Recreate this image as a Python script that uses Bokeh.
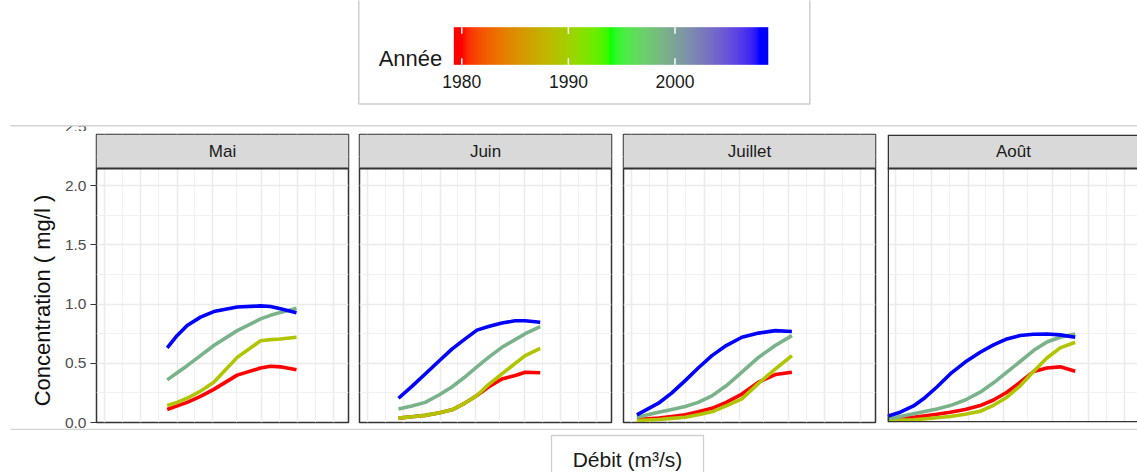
import numpy as np
from bokeh.plotting import figure
from bokeh.models import (Range1d, FixedTicker, Grid, BoxAnnotation, Label, Span,
                          LinearColorMapper, ColumnDataSource, NumeralTickFormatter)
from bokeh.layouts import column, row
from bokeh.embed import file_html
from bokeh.resources import INLINE
from bokeh.core.properties import value
from bokeh.transform import transform

FONT = "Liberation Sans"

# ---------------------------------------------------------------- data
years = [1980, 1989, 1999, 2008]
year_lo, year_hi = 1980, 2008
colour_stops = ["#FF0000", "#00FF00", "#0000FF"]
legend_ticks = [1980, 1990, 2000]

months = ["Mai", "Juin", "Juillet", "Août"]

# discharge (relative units, no labels on the axis)
debit_mai = [7.07, 8.07, 9.07, 10.4, 11.73, 14.07, 16.4, 17.4, 18.4, 20.0]
conc_mai_1980 = [0.11, 0.14, 0.17, 0.22, 0.28, 0.40, 0.46, 0.475, 0.47, 0.445]
conc_mai_1989 = [0.143, 0.17, 0.205, 0.265, 0.34, 0.55, 0.69, 0.70, 0.705, 0.72]
conc_mai_1999 = [0.36, 0.42, 0.48, 0.565, 0.65, 0.776, 0.875, 0.905, 0.93, 0.965]
conc_mai_2008 = [0.63, 0.735, 0.82, 0.89, 0.937, 0.975, 0.985, 0.98, 0.96, 0.926]

debit_juin = [3.9, 5.24, 6.57, 7.9, 9.24, 10.47, 11.74, 12.9, 14.24, 15.57, 16.57, 18.07]
conc_juin_1980 = [0.037, 0.048, 0.06, 0.08, 0.107, 0.16, 0.228, 0.30, 0.368, 0.397, 0.425, 0.42]
conc_juin_1989 = [0.037, 0.048, 0.06, 0.08, 0.107, 0.16, 0.228, 0.32, 0.41, 0.50, 0.565, 0.627]
conc_juin_1999 = [0.115, 0.14, 0.17, 0.23, 0.30, 0.38, 0.47, 0.55, 0.635, 0.70, 0.75, 0.81]
conc_juin_2008 = [0.205, 0.305, 0.41, 0.515, 0.62, 0.70, 0.78, 0.81, 0.84, 0.86, 0.86, 0.846]

debit_juillet = [1.34, 3.5, 4.84, 6.17, 7.47, 8.84, 10.27, 11.84, 13.5, 15.17, 16.84]
conc_juillet_1980 = [0.025, 0.037, 0.05, 0.065, 0.09, 0.12, 0.17, 0.24, 0.34, 0.405, 0.425]
conc_juillet_1989 = [0.017, 0.025, 0.035, 0.045, 0.065, 0.09, 0.14, 0.20, 0.33, 0.45, 0.565]
conc_juillet_1999 = [0.045, 0.087, 0.11, 0.135, 0.17, 0.225, 0.31, 0.425, 0.55, 0.65, 0.734]
conc_juillet_2008 = [0.065, 0.163, 0.25, 0.354, 0.46, 0.565, 0.65, 0.72, 0.755, 0.776, 0.768]

debit_aout = [0.0, 1.27, 2.6, 3.6, 4.94, 6.27, 7.77, 9.27, 10.6, 11.94, 13.27, 14.6, 15.94, 17.27, 18.77]
conc_aout_1980 = [0.022, 0.033, 0.045, 0.055, 0.07, 0.087, 0.11, 0.143, 0.19, 0.256, 0.34, 0.43, 0.46, 0.47, 0.433]
conc_aout_1989 = [0.017, 0.02, 0.022, 0.03, 0.04, 0.05, 0.07, 0.095, 0.145, 0.214, 0.31, 0.43, 0.545, 0.63, 0.678]
conc_aout_1999 = [0.03, 0.05, 0.073, 0.09, 0.115, 0.143, 0.19, 0.256, 0.335, 0.425, 0.515, 0.608, 0.68, 0.72, 0.748]
conc_aout_2008 = [0.053, 0.087, 0.14, 0.20, 0.30, 0.41, 0.51, 0.593, 0.655, 0.706, 0.735, 0.745, 0.748, 0.74, 0.72]

y_ticks = [0.0, 0.5, 1.0, 1.5, 2.0]
y_minor = [0.25, 0.75, 1.25, 1.75, 2.25]
y_next = 2.5                      # following break, mostly outside the image
x_breaks = [0.8, 4.4, 8.07, 11.57, 16.47, 20.07, 23.73]
x_minor = [2.6, 6.23, 9.82, 14.02, 18.27, 21.9]

panels = [
    (debit_mai, [conc_mai_1980, conc_mai_1989, conc_mai_1999, conc_mai_2008]),
    (debit_juin, [conc_juin_1980, conc_juin_1989, conc_juin_1999, conc_juin_2008]),
    (debit_juillet, [conc_juillet_1980, conc_juillet_1989, conc_juillet_1999, conc_juillet_2008]),
    (debit_aout, [conc_aout_1980, conc_aout_1989, conc_aout_1999, conc_aout_2008]),
]

# ---------------------------------------------------------------- colour scale (Lab interpolation)
_M = np.array([[0.4124, 0.3576, 0.1805],
               [0.2126, 0.7152, 0.0722],
               [0.0193, 0.1192, 0.9505]])
_WHITE = np.array([0.95047, 1.0, 1.08883])
_D = 6 / 29


def to_lab(hexc):
    rgb = np.array([int(hexc[i:i + 2], 16) for i in (1, 3, 5)]) / 255.0
    lin = np.where(rgb <= 0.04045, rgb / 12.92, ((rgb + 0.055) / 1.055) ** 2.4)
    xyz = _M @ lin / _WHITE
    f = np.where(xyz > _D ** 3, np.cbrt(xyz), xyz / (3 * _D ** 2) + 4 / 29)
    return np.array([116 * f[1] - 16, 500 * (f[0] - f[1]), 200 * (f[1] - f[2])])


def from_lab(lab):
    L, a, b = lab
    fy = (L + 16) / 116
    f = np.array([fy + a / 500, fy, fy - b / 200])
    xyz = np.where(f > _D, f ** 3, 3 * _D ** 2 * (f - 4 / 29)) * _WHITE
    lin = np.clip(np.linalg.inv(_M) @ xyz, 0, 1)
    rgb = np.where(lin <= 0.0031308, 12.92 * lin, 1.055 * lin ** (1 / 2.4) - 0.055)
    r, g, bb = np.round(np.clip(rgb, 0, 1) * 255).astype(int)
    return "#%02x%02x%02x" % (r, g, bb)


stops_lab = [to_lab(c) for c in colour_stops]
palette = []
for t in np.linspace(0, 1, 256):
    seg = min(int(t * (len(stops_lab) - 1)), len(stops_lab) - 2)
    u = t * (len(stops_lab) - 1) - seg
    palette.append(from_lab(stops_lab[seg] * (1 - u) + stops_lab[seg + 1] * u))

mapper = LinearColorMapper(palette=palette, low=year_lo, high=year_hi)

# ---------------------------------------------------------------- geometry
BORDER = "#333333"
FRAME_W = 252
FRAME_H = 288
PX = 118.4                        # pixels per mg/l
Y_TOP = FRAME_H / PX              # top of the frame (= top of strip)
STRIP_LO = 2.145                  # panel top / strip bottom
TOP_H = 131
ROW_H = 297
BOTTOM_H = 44
PAD_TOP, PAD_BOTTOM = 3, 6
FRAME_BOTTOM_PX = TOP_H + PAD_TOP + FRAME_H   # page y of concentration 0


def make_panel(i, debit, concs, width, left, right):
    first = i == 0
    last = i == len(months) - 1
    fw = width - left - right
    x_end = fw / 10
    p = figure(width=width, height=ROW_H, x_range=Range1d(0, x_end), y_range=Range1d(0, Y_TOP),
               min_border_left=left, min_border_right=right,
               min_border_top=PAD_TOP, min_border_bottom=PAD_BOTTOM,
               x_axis_location=None, y_axis_location="left" if first else None,
               toolbar_location=None, output_backend="svg",
               background_fill_color="white", border_fill_color="white",
               outline_line_color=None if last else BORDER, outline_line_width=1.5,
               outline_line_alpha=1.0)
    p.grid.visible = False

    p.add_layout(Grid(dimension=0, ticker=FixedTicker(ticks=x_breaks, minor_ticks=x_minor),
                      grid_line_color="#ebebeb", grid_line_width=1.6,
                      minor_grid_line_color="#f1f1f1", minor_grid_line_width=1.0))
    p.add_layout(Grid(dimension=1, ticker=FixedTicker(ticks=y_ticks, minor_ticks=y_minor),
                      grid_line_color="#ebebeb", grid_line_width=1.6,
                      minor_grid_line_color="#f1f1f1", minor_grid_line_width=1.0))

    src = ColumnDataSource(dict(xs=[debit] * len(years), ys=concs, year=years))
    p.multi_line("xs", "ys", source=src, line_color=transform("year", mapper),
                 line_width=3.6, line_join="round")

    # facet strip
    p.add_layout(BoxAnnotation(bottom=STRIP_LO, fill_color="#d9d9d9", fill_alpha=1.0,
                               line_color=None))
    p.add_layout(Span(location=STRIP_LO, dimension="width", line_color=BORDER, line_width=2))
    if last:
        # panel cut by the right edge: border on three sides only
        p.add_layout(BoxAnnotation(left=0.075, right=x_end + 5, bottom=0.0065, top=Y_TOP - 0.0065,
                                   fill_alpha=0.0, line_color=BORDER, line_alpha=1.0,
                                   line_width=1.5))
    p.add_layout(Label(x=FRAME_W / 20, y=(STRIP_LO + Y_TOP) / 2, text=months[i],
                       text_align="center", text_baseline="middle",
                       text_font=FONT, text_font_size="17px", text_color="#1a1a1a"))

    if first:
        ax = p.yaxis[0]
        ax.ticker = FixedTicker(ticks=y_ticks)
        ax.formatter = NumeralTickFormatter(format="0.0")
        ax.axis_line_color = None
        ax.major_tick_line_color = BORDER
        ax.major_tick_line_width = 1.2
        ax.major_tick_out = 6
        ax.major_tick_in = 0
        ax.minor_tick_line_color = None
        ax.major_label_standoff = 4
        ax.major_label_text_font = FONT
        ax.major_label_text_font_size = "15.5px"
        ax.major_label_text_color = "#4d4d4d"
    return p


# y-axis title lives in its own narrow column
ytitle = figure(width=56, height=ROW_H, x_range=Range1d(0, 56), y_range=Range1d(0, Y_TOP),
                min_border=0, min_border_top=PAD_TOP, min_border_bottom=PAD_BOTTOM,
                x_axis_location=None, y_axis_location=None,
                toolbar_location=None, output_backend="svg", outline_line_color=None)
ytitle.grid.visible = False
ytitle.text(x=[42], y=[1.03], text=["Concentration ( mg/l )"], angle=np.pi / 2,
            text_align="center", text_baseline="middle", text_font=value(FONT),
            text_font_size="22px", text_color="#111111")

widths = [(298, 40, 6), (263, 5, 6), (264, 6, 6), (256, 6, 0)]
panel_figs = [make_panel(i, d, c, *widths[i]) for i, (d, c) in enumerate(panels)]

# ---------------------------------------------------------------- colour legend (top)
top = figure(width=1137, height=TOP_H, x_range=Range1d(0, 1137), y_range=Range1d(TOP_H, 0),
             min_border=0, x_axis_location=None, y_axis_location=None,
             toolbar_location=None, output_backend="svg", outline_line_color=None)
top.grid.visible = False

tick0_px, px_per_year = 461.3, 10.66


def year_px(y):
    return tick0_px + (y - year_lo) * px_per_year


bar_from, bar_to = year_lo - 0.75, year_hi + 0.75
bar_top, bar_h = 26.7, 37.6
bar_vals = np.linspace(bar_from, bar_to, 400)[np.newaxis, :]
top.image(image=[bar_vals], x=year_px(bar_from), y=bar_top,
          dw=year_px(bar_to) - year_px(bar_from), dh=bar_h, color_mapper=mapper)

tx = [year_px(t) for t in legend_ticks]
top.segment(x0=tx, x1=tx, y0=[bar_top] * 3, y1=[bar_top + 6.5] * 3, line_color="white", line_width=1.5)
top.segment(x0=tx, x1=tx, y0=[bar_top + bar_h - 6.5] * 3, y1=[bar_top + bar_h] * 3,
            line_color="white", line_width=1.5)
top.text(x=tx, y=[80.7] * 3, text=[str(t) for t in legend_ticks], text_align="center",
         text_baseline="middle", text_font=value(FONT), text_font_size="17.5px",
         text_color="#1a1a1a")
top.text(x=[410], y=[57.5], text=["Année"], text_align="center", text_baseline="middle",
         text_font=value(FONT), text_font_size="22px", text_color="#1a1a1a")
top.quad(left=[358.3], right=[809.3], top=[-5], bottom=[103.5], fill_color=None,
         line_color="#cfcfcf", line_width=1.5)

# label of the 2.5 break, whose upper half falls outside the image
top.text(x=[86], y=[FRAME_BOTTOM_PX - y_next * PX], text=["%.1f" % y_next], text_align="right",
         text_baseline="middle", text_font=value(FONT), text_font_size="15.5px",
         text_color="#4d4d4d")
top.quad(left=[40], right=[100], top=[-5], bottom=[125.6], fill_color="white", line_color=None)
top.segment(x0=[10], x1=[1137], y0=[125.3], y1=[125.3], line_color="#d4d4d4", line_width=1.5)

# ---------------------------------------------------------------- x axis title (bottom)
bottom = figure(width=1137, height=BOTTOM_H, x_range=Range1d(0, 1137), y_range=Range1d(472, 428),
                min_border=0, x_axis_location=None, y_axis_location=None,
                toolbar_location=None, output_backend="svg", outline_line_color=None)
bottom.grid.visible = False
bottom.segment(x0=[10], x1=[1137], y0=[428.8], y1=[428.8], line_color="#d4d4d4", line_width=1.5)
bottom.quad(left=[551], right=[703], top=[435], bottom=[480], fill_color=None,
            line_color="#cfcfcf", line_width=1.3)
bottom.text(x=[627], y=[458.5], text=["Débit (m³/s)"], text_align="center", text_baseline="middle",
            text_font=value(FONT), text_font_size="21px", text_color="#1a1a1a")

layout = column(top, row(ytitle, *panel_figs), bottom)
open("out.html", "w").write(file_html(layout, INLINE))
